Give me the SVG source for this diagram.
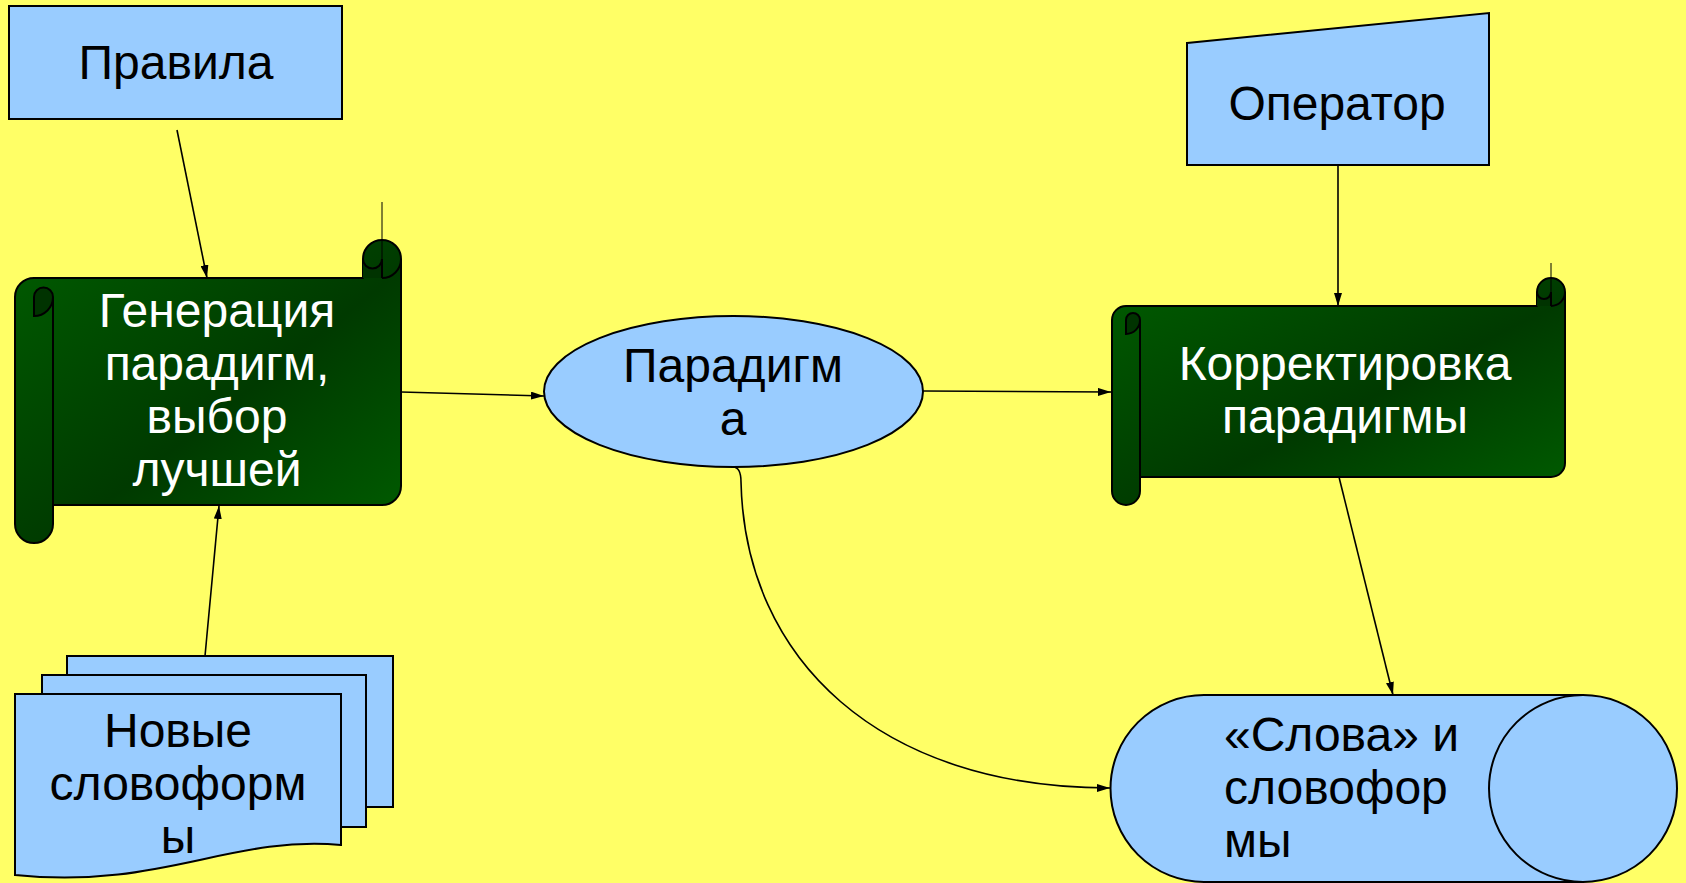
<svg xmlns="http://www.w3.org/2000/svg" width="1686" height="883" viewBox="0 0 1686 883">
  <defs>
    <linearGradient id="green" x1="0" y1="0" x2="1" y2="1">
      <stop offset="0" stop-color="#005c00"/>
      <stop offset="0.55" stop-color="#003a00"/>
      <stop offset="1" stop-color="#005e00"/>
    </linearGradient>
    <marker id="arrow" viewBox="0 0 13 8" refX="13" refY="4" markerWidth="13" markerHeight="8" markerUnits="userSpaceOnUse" orient="auto">
      <path d="M0,0 L13,4 L0,8 Z" fill="#000"/>
    </marker>
    <style>
      .blue { fill: #99ccff; stroke: #000; stroke-width: 2; }
      .scroll { fill: url(#green); stroke: #000; stroke-width: 2; stroke-linejoin: round; }
      .curl { fill: none; stroke: #000; stroke-width: 2; }
      .curlfill { fill: #003300; stroke: #000; stroke-width: 2; }
      .thin { fill: none; stroke: #000; stroke-width: 1; }
      .conn { fill: none; stroke: #000; stroke-width: 1.6; }
      .t { font-family: "Liberation Sans", Arial, sans-serif; font-size: 48px; fill: #000; }
      .w { fill: #ffffff; }
      .c { text-anchor: middle; }
    </style>
  </defs>
  <rect x="0" y="0" width="1686" height="883" fill="#ffff66"/>

  <g id="pravila">
    <rect class="blue" x="9" y="6" width="333" height="113"/>
    <text class="t c" x="176" y="79">Правила</text>
  </g>

  <g id="operator">
    <polygon class="blue" points="1187,43 1489,13 1489,165 1187,165"/>
    <text class="t c" x="1337" y="120">Оператор</text>
  </g>

  <g id="generation">
    <path class="scroll" d="M15,297 A19,19 0 0 1 34,278 L363,278 L363,259 A19,19 0 0 1 401,259 L401,486 A19,19 0 0 1 382,505 L53,505 L53,524 A19,19 0 0 1 15,524 Z"/>
    <path class="curlfill" d="M34,316 L34,297 A9.5,9.5 0 0 1 53,297 A19,19 0 0 1 34,316 Z"/>
    <path class="curl" d="M53,297 L53,505"/>
    <path class="curlfill" d="M363,259 A9.5,9.5 0 0 0 382,259 L382,278 L363,278 Z" style="stroke:none"/>
    <path class="curl" d="M382,278 A19,19 0 0 0 401,259 M363,259 A9.5,9.5 0 0 0 382,259 M382,259 L382,278"/>
    <path class="thin" d="M382,202 L382,259"/>
    <text class="t c w" x="217" y="327">Генерация</text>
    <text class="t c w" x="217" y="380">парадигм,</text>
    <text class="t c w" x="217" y="433">выбор</text>
    <text class="t c w" x="217" y="486">лучшей</text>
  </g>

  <g id="paradigm">
    <ellipse class="blue" cx="733.5" cy="391.5" rx="189.5" ry="75.5"/>
    <text class="t c" x="733" y="382">Парадигм</text>
    <text class="t c" x="733" y="435">а</text>
  </g>

  <g id="correction">
    <path class="scroll" d="M1112,320 A14,14 0 0 1 1126,306 L1537,306 L1537,292 A14,14 0 0 1 1565,292 L1565,463 A14,14 0 0 1 1551,477 L1140,477 L1140,491 A14,14 0 0 1 1112,491 Z"/>
    <path class="curlfill" d="M1126,334 L1126,320 A7,7 0 0 1 1140,320 A14,14 0 0 1 1126,334 Z"/>
    <path class="curl" d="M1140,320 L1140,477"/>
    <path class="curlfill" d="M1537,292 A7,7 0 0 0 1551,292 L1551,306 L1537,306 Z" style="stroke:none"/>
    <path class="curl" d="M1551,306 A14,14 0 0 0 1565,292 M1537,292 A7,7 0 0 0 1551,292 M1551,292 L1551,306"/>
    <path class="thin" d="M1551,263 L1551,292"/>
    <text class="t c w" x="1345" y="380">Корректировка</text>
    <text class="t c w" x="1345" y="433">парадигмы</text>
  </g>

  <g id="newforms">
    <rect class="blue" x="67" y="656" width="326" height="151"/>
    <rect class="blue" x="42" y="675" width="324" height="152"/>
    <path class="blue" d="M15,694 L341,694 L341,845 C230,835 160,890 15,875 Z"/>
    <text class="t c" x="178" y="747">Новые</text>
    <text class="t c" x="178" y="800">словоформ</text>
    <text class="t c" x="178" y="853">ы</text>
  </g>

  <g id="words">
    <path class="blue" d="M1204,695 L1583,695 L1583,882 L1204,882 A93.5,93.5 0 0 1 1204,695 Z"/>
    <ellipse class="blue" cx="1583" cy="788.5" rx="94" ry="93.5"/>
    <text class="t" x="1224" y="751">«Слова» и</text>
    <text class="t" x="1224" y="804">словофор</text>
    <text class="t" x="1224" y="857">мы</text>
  </g>

  <g id="connectors">
    <line class="conn" x1="177" y1="130" x2="207" y2="278" marker-end="url(#arrow)"/>
    <line class="conn" x1="205" y1="656" x2="219" y2="506" marker-end="url(#arrow)"/>
    <line class="conn" x1="401" y1="392" x2="544" y2="396" marker-end="url(#arrow)"/>
    <line class="conn" x1="923" y1="391" x2="1111" y2="392" marker-end="url(#arrow)"/>
    <line class="conn" x1="1338" y1="165" x2="1338" y2="306" marker-end="url(#arrow)"/>
    <line class="conn" x1="1339" y1="477" x2="1393" y2="695" marker-end="url(#arrow)"/>
    <path class="conn" d="M733,467 C738,467 741,472 741,482 C745,660 880,788 1110,788" marker-end="url(#arrow)"/>
  </g>
</svg>
